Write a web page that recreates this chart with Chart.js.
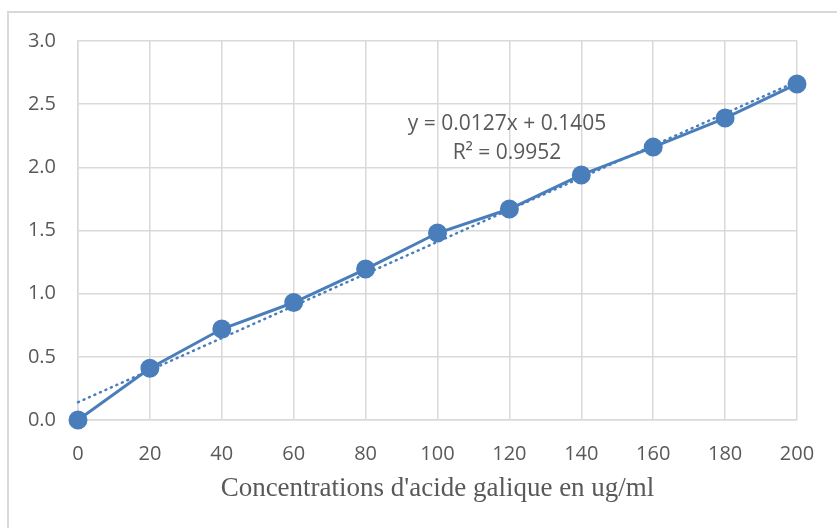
<!DOCTYPE html>
<html>
<head>
<meta charset="utf-8">
<script src="https://cdn.jsdelivr.net/npm/chart.js@4"></script>
<style>
  html, body { margin: 0; padding: 0; background: #fff; }
  #wrap { position: relative; width: 837px; height: 528px; }
</style>
</head>
<body>
<div id="wrap"><canvas id="chart" width="837" height="528"></canvas></div>
<script>
// Data
const concentrations = [0, 20, 40, 60, 80, 100, 120, 140, 160, 180, 200];
const absorbances = [0.0, 0.41, 0.72, 0.93, 1.195, 1.48, 1.67, 1.94, 2.16, 2.39, 2.66];
const trendX = [0, 200];
const trendY = [0.1405, 2.6805];
const equationLines = ['y = 0.0127x + 0.1405', 'R² = 0.9952'];
const xTitle = "Concentrations d'acide galique en ug/ml";

const blue = '#4a7ebb';
const grid = '#d9d9d9';
const textGrey = '#595959';

// outer frame and trendline equation
const extras = {
    id: 'extras',
    beforeDraw(chart) {
        const c = chart.ctx;
        c.save();
        c.strokeStyle = grid;
        c.lineWidth = 2;
        c.beginPath();
        c.moveTo(8, 528);
        c.lineTo(8, 12);
        c.lineTo(837, 12);
        c.stroke();
        c.restore();
    },
    afterDraw(chart) {
        const c = chart.ctx;
        c.save();
        c.fillStyle = textGrey;
        c.font = '21px "Open Sans"';
        c.textAlign = 'center';
        c.textBaseline = 'middle';
        c.fillText(equationLines[0], 507, 124);
        c.fillText(equationLines[1], 507, 153);
        c.restore();
    }
};

const ctx = document.getElementById('chart').getContext('2d');
new Chart(ctx, {
    type: 'scatter',
    data: {
        datasets: [
            {
                label: 'Absorbance',
                data: concentrations.map((x, i) => ({ x: x, y: absorbances[i] })),
                showLine: true,
                borderColor: blue,
                backgroundColor: blue,
                borderWidth: 3,
                pointRadius: 8,
                pointHoverRadius: 8,
                tension: 0,
                clip: false
            },
            {
                label: 'Trend',
                data: trendX.map((x, i) => ({ x: x, y: trendY[i] })),
                showLine: true,
                borderColor: blue,
                borderWidth: 2.5,
                borderDash: [1, 5],
                borderCapStyle: 'round',
                pointRadius: 0,
                clip: false
            }
        ]
    },
    options: {
        responsive: false,
        animation: false,
        layout: { padding: { top: 41, right: 40, left: 0, bottom: 19 } },
        plugins: {
            legend: { display: false },
            tooltip: { enabled: false }
        },
        scales: {
            x: {
                type: 'linear',
                min: 0,
                max: 200,
                ticks: { stepSize: 20, color: textGrey, font: { family: 'Open Sans', size: 20 }, padding: 22 },
                grid: { color: grid, lineWidth: 1.5, drawTicks: false },
                border: { color: grid, width: 1.5 },
                title: {
                    display: true,
                    text: xTitle,
                    color: textGrey,
                    font: { family: 'Liberation Serif', size: 27 },
                    padding: { top: 4 }
                },
                afterFit(scale) { scale.height = 89; }
            },
            y: {
                min: 0,
                max: 3,
                ticks: {
                    stepSize: 0.5,
                    color: textGrey,
                    font: { family: 'Open Sans', size: 20 },
                    padding: 22,
                    callback: v => v.toFixed(1)
                },
                grid: { color: grid, lineWidth: 1.5, drawTicks: false },
                border: { color: grid, width: 1.5 },
                afterFit(scale) { scale.width = 78; }
            }
        }
    },
    plugins: [extras]
});
</script>
</body>
</html>
